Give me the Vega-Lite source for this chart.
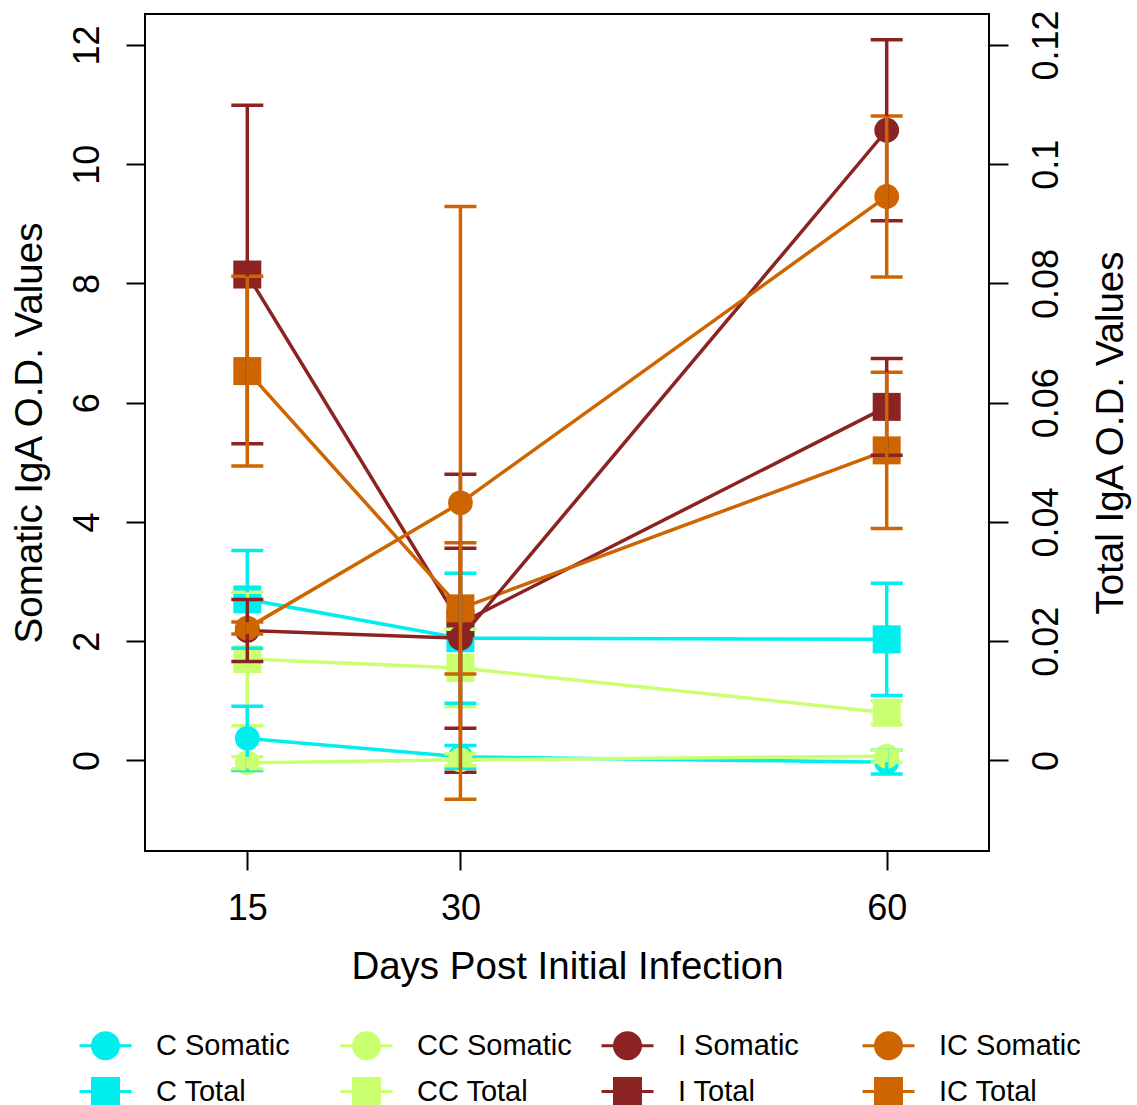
{
  "$schema": "https://vega.github.io/schema/vega-lite/v6.json",
  "autosize": {"type": "none"},
  "padding": {"left": 145, "top": 14, "right": 148, "bottom": 254},
  "width": 844,
  "height": 837,
  "background": "white",
  "config": {
    "font": "Liberation Sans",
    "view": {"stroke": "black", "strokeWidth": 2},
    "axis": {"grid": false, "domain": false, "tickColor": "black", "tickWidth": 2, "tickSize": 19, "labelColor": "black", "labelFontSize": 36, "titleColor": "black", "titleFontSize": 38.5, "titleFontWeight": "normal", "labelFont": "Liberation Sans", "titleFont": "Liberation Sans"}
  },
  "data": {
    "values": [
      {"series": "C Total", "measure": "Total", "day": 15, "value": 0.0270, "sd": 0.0082},
      {"series": "C Total", "measure": "Total", "day": 30, "value": 0.0205, "sd": 0.0109},
      {"series": "C Total", "measure": "Total", "day": 60, "value": 0.0203, "sd": 0.0094},
      {"series": "CC Total", "measure": "Total", "day": 15, "value": 0.0170, "sd": 0.0112},
      {"series": "CC Total", "measure": "Total", "day": 30, "value": 0.0155, "sd": 0.0065},
      {"series": "CC Total", "measure": "Total", "day": 60, "value": 0.0080, "sd": 0.0020},
      {"series": "I Total", "measure": "Total", "day": 15, "value": 0.0815, "sd": 0.0284},
      {"series": "I Total", "measure": "Total", "day": 30, "value": 0.0230, "sd": 0.0250},
      {"series": "I Total", "measure": "Total", "day": 60, "value": 0.0593, "sd": 0.0081},
      {"series": "IC Total", "measure": "Total", "day": 15, "value": 0.0653, "sd": 0.0159},
      {"series": "IC Total", "measure": "Total", "day": 30, "value": 0.0255, "sd": 0.0110},
      {"series": "IC Total", "measure": "Total", "day": 60, "value": 0.0520, "sd": 0.0131},
      {"series": "C Somatic", "measure": "Somatic", "day": 15, "value": 0.37, "sd": 0.54},
      {"series": "C Somatic", "measure": "Somatic", "day": 30, "value": 0.06, "sd": 0.19},
      {"series": "C Somatic", "measure": "Somatic", "day": 60, "value": -0.03, "sd": 0.2},
      {"series": "CC Somatic", "measure": "Somatic", "day": 15, "value": -0.04, "sd": 0.1},
      {"series": "CC Somatic", "measure": "Somatic", "day": 30, "value": 0.01, "sd": 0.1},
      {"series": "CC Somatic", "measure": "Somatic", "day": 60, "value": 0.07, "sd": 0.1},
      {"series": "I Somatic", "measure": "Somatic", "day": 15, "value": 2.18, "sd": 0.52},
      {"series": "I Somatic", "measure": "Somatic", "day": 30, "value": 2.05, "sd": 1.51},
      {"series": "I Somatic", "measure": "Somatic", "day": 60, "value": 10.57, "sd": 1.52},
      {"series": "IC Somatic", "measure": "Somatic", "day": 15, "value": 2.22, "sd": 0.1},
      {"series": "IC Somatic", "measure": "Somatic", "day": 30, "value": 4.32, "sd": 4.97},
      {"series": "IC Somatic", "measure": "Somatic", "day": 60, "value": 9.46, "sd": 1.35}
    ]
  },
  "encoding": {
    "x": {"field": "day", "type": "quantitative", "scale": {"domain": [7.8, 67.2], "nice": false, "zero": false},
      "axis": {"values": [15, 30, 60], "labelPadding": 21, "title": "Days Post Initial Infection", "titlePadding": 22}},
    "color": {"field": "series", "type": "nominal",
      "scale": {"domain": ["C Somatic", "CC Somatic", "I Somatic", "IC Somatic", "C Total", "CC Total", "I Total", "IC Total"],
        "range": ["#00EEEE", "#CAFF70", "#8B2323", "#CD6600", "#00EEEE", "#CAFF70", "#8B2323", "#CD6600"]},
      "legend": {"orient": "none", "legendX": -54, "legendY": 1017, "direction": "horizontal", "columns": 4, "title": null,
        "padding": 0, "symbolSize": 676, "symbolStrokeWidth": 3, "labelFontSize": 29, "labelFont": "Liberation Sans", "labelColor": "black",
        "labelOffset": 36, "columnPadding": 23, "rowPadding": 7, "gridAlign": "all", "labelLimit": 400,
        "encode": {"symbols": {"update": {
          "shape": {"signal": "indexof(datum.label, 'Somatic') >= 0 ? 'M-2,0H2M1,0A1,1,0,1,1,-1,0A1,1,0,1,1,1,0Z' : 'M-2,0H2M-1,-1H1V1H-1Z'"},
          "fill": {"scale": "color", "field": "value"},
          "stroke": {"scale": "color", "field": "value"},
          "opacity": {"value": 1},
          "fillOpacity": {"value": 1},
          "strokeOpacity": {"value": 1}}}}}
    }
  },
  "layer": [
    {
      "transform": [{"filter": "datum.measure == 'Total'"}],
      "encoding": {
        "y": {"field": "value", "type": "quantitative", "scale": {"domain": [-0.0152, 0.1252], "nice": false, "zero": false},
          "axis": {"orient": "right", "values": [0, 0.02, 0.04, 0.06, 0.08, 0.1, 0.12], "format": "~g", "labelAngle": 270, "labelAlign": "center", "labelBaseline": "top", "labelPadding": 21,
            "title": "Total IgA O.D. Values", "titleAngle": 270, "titleBaseline": "top", "titlePadding": 28}}
      },
      "layer": [
        {"mark": {"type": "line", "strokeWidth": 3.5}},
        {"mark": {"type": "point", "shape": "square", "filled": true, "size": 784, "opacity": 1}},
        {"mark": {"type": "errorbar", "ticks": true, "size": 32, "thickness": 3.5, "opacity": 1}, "encoding": {"yError": {"field": "sd"}}}
      ]
    },
    {
      "transform": [{"filter": "datum.measure == 'Somatic'"}],
      "encoding": {
        "y": {"field": "value", "type": "quantitative", "scale": {"domain": [-1.52, 12.52], "nice": false, "zero": false},
          "axis": {"orient": "left", "values": [0, 2, 4, 6, 8, 10, 12], "labelAngle": 270, "labelAlign": "center", "labelBaseline": "alphabetic", "labelPadding": 28,
            "title": "Somatic IgA O.D. Values", "titleAngle": 270, "titlePadding": 20}}
      },
      "layer": [
        {"mark": {"type": "line", "strokeWidth": 3.5}},
        {"mark": {"type": "point", "shape": "circle", "filled": true, "size": 615, "opacity": 1}},
        {"mark": {"type": "errorbar", "ticks": true, "size": 32, "thickness": 3.5, "opacity": 1}, "encoding": {"yError": {"field": "sd"}}}
      ]
    }
  ],
  "resolve": {"scale": {"y": "independent"}}
}
